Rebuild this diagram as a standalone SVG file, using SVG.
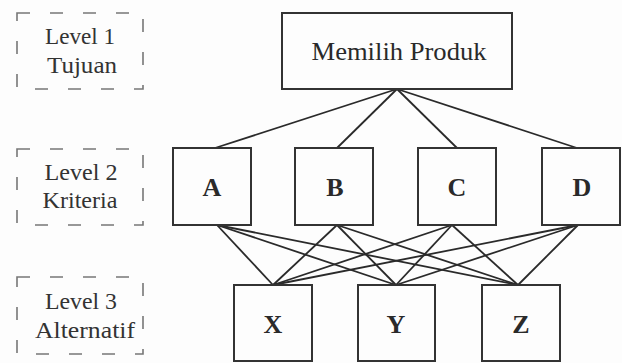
<svg xmlns="http://www.w3.org/2000/svg" width="622" height="363" viewBox="0 0 622 363">
<style>
.bg{fill:#fdfdfd}
.box{fill:none;stroke:#333;stroke-width:2}
.dash{fill:none;stroke:#777;stroke-width:1.6;stroke-dasharray:13 20}
.lbl{font-family:"Liberation Serif","Times New Roman",serif;font-size:24px;fill:#333;text-anchor:middle}
.title{font-family:"Liberation Serif","Times New Roman",serif;font-size:26px;fill:#2a2a2a;text-anchor:middle}
.let{font-family:"Liberation Serif","Times New Roman",serif;font-size:26px;font-weight:bold;fill:#2a2a2a;text-anchor:middle}
.con line{stroke:#2a2a2a;stroke-width:1.8}
</style>
<rect class="bg" x="0" y="0" width="622" height="363"/>
<g id="level1">
<rect class="dash" x="17" y="13" width="126" height="76"/>
<text class="lbl" x="80" y="44" textLength="70" lengthAdjust="spacingAndGlyphs">Level 1</text>
<text class="lbl" x="82" y="73" textLength="70" lengthAdjust="spacingAndGlyphs">Tujuan</text>
</g>
<g id="level2">
<rect class="dash" x="17" y="149" width="126" height="76"/>
<text class="lbl" x="81" y="180" textLength="73" lengthAdjust="spacingAndGlyphs">Level 2</text>
<text class="lbl" x="80" y="208" textLength="75" lengthAdjust="spacingAndGlyphs">Kriteria</text>
</g>
<g id="level3">
<rect class="dash" x="17" y="277" width="126" height="77"/>
<text class="lbl" x="81" y="309" textLength="72" lengthAdjust="spacingAndGlyphs">Level 3</text>
<text class="lbl" x="85" y="338" textLength="100" lengthAdjust="spacingAndGlyphs">Alternatif</text>
</g>
<g class="con" id="connectors">
<line x1="397" y1="89" x2="215" y2="148"/>
<line x1="397" y1="89" x2="337" y2="148"/>
<line x1="397" y1="89" x2="457" y2="148"/>
<line x1="397" y1="89" x2="577" y2="148"/>
<line x1="217" y1="225" x2="273" y2="285"/>
<line x1="217" y1="225" x2="396" y2="285"/>
<line x1="217" y1="225" x2="518" y2="285"/>
<line x1="337" y1="225" x2="273" y2="285"/>
<line x1="337" y1="225" x2="396" y2="285"/>
<line x1="337" y1="225" x2="518" y2="285"/>
<line x1="452" y1="225" x2="273" y2="285"/>
<line x1="452" y1="225" x2="396" y2="285"/>
<line x1="452" y1="225" x2="518" y2="285"/>
<line x1="578" y1="225" x2="273" y2="285"/>
<line x1="578" y1="225" x2="396" y2="285"/>
<line x1="578" y1="225" x2="518" y2="285"/>
</g>
<g id="goal">
<rect class="box" x="282" y="13" width="230" height="76"/>
<text class="title" x="399" y="60" textLength="175" lengthAdjust="spacingAndGlyphs">Memilih Produk</text>
</g>
<g id="A">
<rect class="box" x="173" y="148" width="78" height="77"/>
<text class="let" x="212" y="196">A</text>
</g>
<g id="B">
<rect class="box" x="295" y="148" width="78" height="77"/>
<text class="let" x="335" y="196">B</text>
</g>
<g id="C">
<rect class="box" x="418" y="148" width="78" height="77"/>
<text class="let" x="457" y="196">C</text>
</g>
<g id="D">
<rect class="box" x="542" y="148" width="78" height="77"/>
<text class="let" x="582" y="196">D</text>
</g>
<g id="X">
<rect class="box" x="234" y="285" width="78" height="76"/>
<text class="let" x="273" y="333">X</text>
</g>
<g id="Y">
<rect class="box" x="358" y="285" width="77" height="76"/>
<text class="let" x="396" y="333">Y</text>
</g>
<g id="Z">
<rect class="box" x="482" y="285" width="78" height="76"/>
<text class="let" x="521" y="333">Z</text>
</g>
</svg>
